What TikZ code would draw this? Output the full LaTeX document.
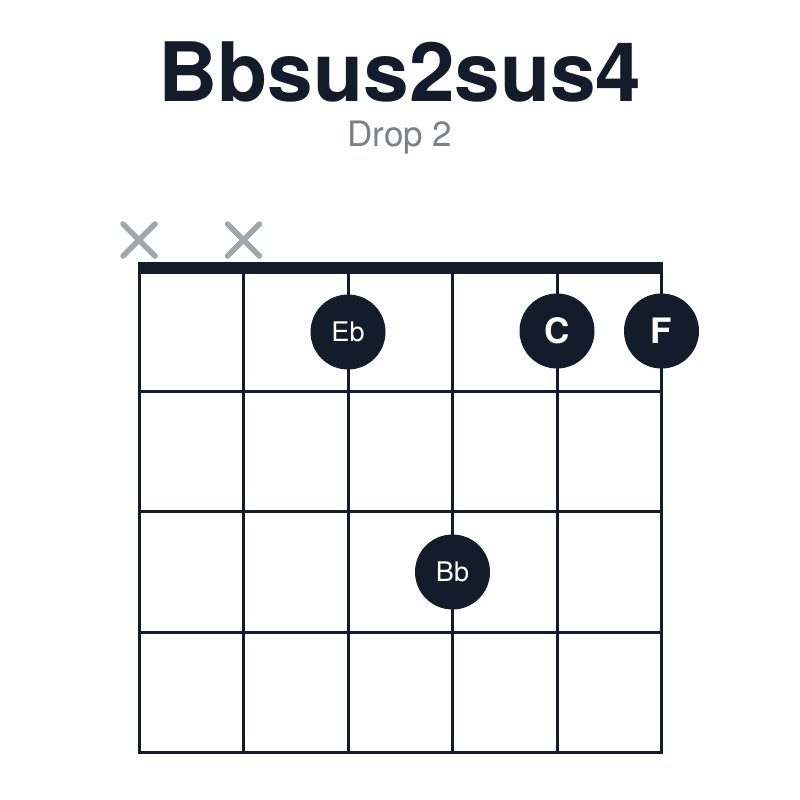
\documentclass[tikz,border=0pt]{standalone}
\usepackage{fontspec}
\setmainfont{TeX Gyre Heros}
\definecolor{ink}{HTML}{141B2A}
\definecolor{xgray}{HTML}{A1A5AC}
\definecolor{subgray}{HTML}{7B808A}
\begin{document}
\begin{tikzpicture}[x=1pt,y=-1pt,
  gridline/.style={draw=ink,line width=3pt},
  nutline/.style={draw=ink,line width=12pt},
  mutemark/.style={draw=xgray,line width=5.5pt,line cap=round},
  fingerdot/.style={circle,fill=ink,text=white,minimum size=75pt,inner sep=0pt},
  smalllabel/.style={font=\fontsize{27}{27}\selectfont},
  biglabel/.style={font=\fontsize{35}{35}\selectfont\bfseries}]
\useasboundingbox (0,0) rectangle (800,800);
\fill[white] (0,0) rectangle (800,800);
% title
\node[font=\fontsize{82}{82}\selectfont\bfseries,text=ink,anchor=base,inner sep=0pt] (title) at (400,101) {Bbsus2sus4};
\node[font=\fontsize{35}{35}\selectfont,text=subgray,anchor=base,inner sep=0pt] (sub) at (400,146) {Drop 2};
% strings
\foreach \i in {0,...,5}{
  \draw[gridline] ({139+104.5*\i},268) -- ({139+104.5*\i},752.5);
}
% frets
\foreach \y in {391,511.5,632,752.5}{
  \draw[gridline] (137.5,\y) -- (663,\y);
}
% nut
\draw[nutline] (137.5,268) -- (663,268);
% mute marks
\foreach \cx in {139,243.5}{
  \draw[mutemark] (\cx-16,224) -- (\cx+16,256);
  \draw[mutemark] (\cx-16,256) -- (\cx+16,224);
}
% finger dots
\node[fingerdot,smalllabel] (eb) at (348,332) {Eb};
\node[fingerdot,biglabel] (c) at (557,331) {C};
\node[fingerdot,biglabel] (f) at (661.5,331) {F};
\node[fingerdot,smalllabel] (bb) at (452.5,572) {Bb};
\end{tikzpicture}
\end{document}
